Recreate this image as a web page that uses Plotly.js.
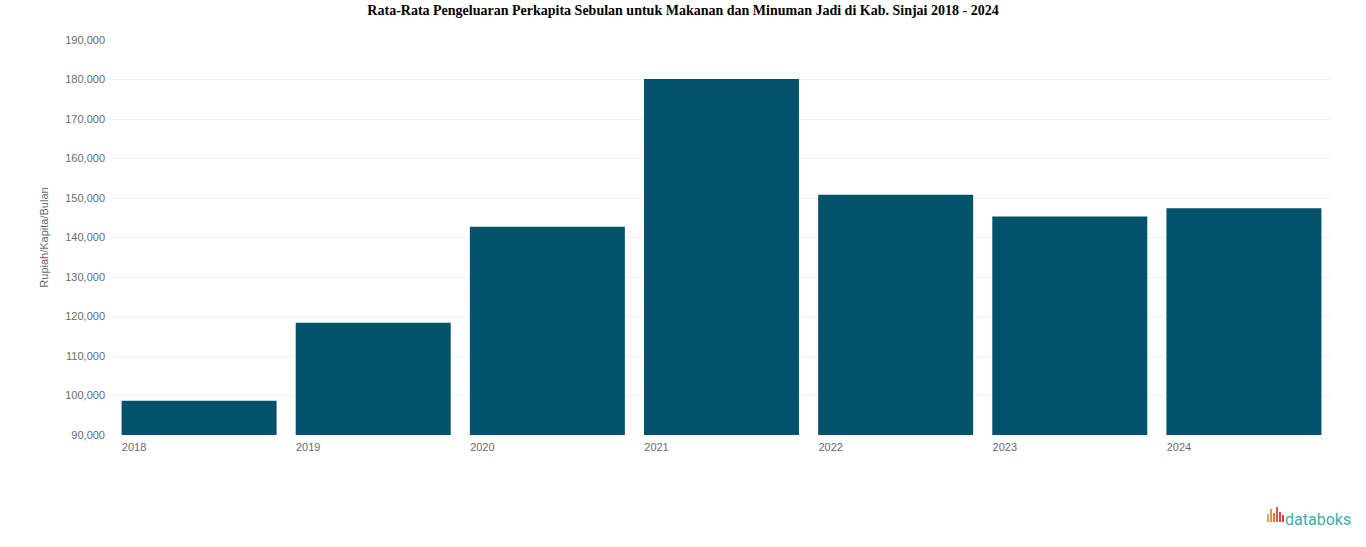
<!DOCTYPE html>
<html>
<head>
<meta charset="utf-8">
<script src="https://cdn.plot.ly/plotly-3.0.1.min.js"></script>
<style>
  html, body { margin: 0; padding: 0; background: #fff; }
  #chart { width: 1366px; height: 547px; }
</style>
</head>
<body>
<div id="chart"></div>
<script>
// data
var years = ['2018', '2019', '2020', '2021', '2022', '2023', '2024'];
var spending = [98700, 118400, 142700, 180100, 150800, 145300, 147400];
var yTicks = [90000, 100000, 110000, 120000, 130000, 140000, 150000, 160000, 170000, 180000, 190000];

var W = 1366, H = 547;
var mL = 112, mR = 35, mT = 40, mB = 112;
var plotW = W - mL - mR, plotH = H - mT - mB;

// pixel -> paper helpers for the logo
function px(x) { return (x - mL) / plotW; }
function py(y) { return (H - mB - y) / plotH; }

var barColor = '#02526c';
var axisFont = { family: 'Arial, Liberation Sans, sans-serif', size: 11, color: '#6a6a6a' };

var data = [{
    x: years,
    y: spending,
    type: 'bar',
    marker: { color: barColor },
    hoverinfo: 'x+y',
    showlegend: false
}];

// small icon for the databoks mark
var iconBars = [
    { x: 1267, h: 8, c: '#f0a35a' },
    { x: 1270, h: 13, c: '#ef8a52' },
    { x: 1273, h: 9, c: '#ea6d4c' },
    { x: 1276, h: 15, c: '#e65448' },
    { x: 1279, h: 10, c: '#e2444a' },
    { x: 1282, h: 7, c: '#de3b4b' }
];
var shapes = iconBars.map(function(b) {
    return {
        type: 'rect', xref: 'paper', yref: 'paper',
        x0: px(b.x), x1: px(b.x + 2),
        y0: py(519 + 3), y1: py(519 + 3 - b.h),
        fillcolor: b.c, line: { width: 0 }
    };
});

var layout = {
    width: W,
    height: H,
    margin: { l: mL, r: mR, t: mT, b: mB },
    paper_bgcolor: '#fff',
    plot_bgcolor: '#fff',
    title: {
        text: '<b>Rata-Rata Pengeluaran Perkapita Sebulan untuk Makanan dan Minuman Jadi di Kab. Sinjai 2018 - 2024</b>',
        font: { family: 'Liberation Serif, Times New Roman, serif', size: 14, color: '#000' },
        x: 0.5,
        xref: 'container',
        xanchor: 'center',
        y: 1 - 10 / H,
        yanchor: 'middle'
    },
    bargap: 0.11,
    xaxis: {
        type: 'category',
        showgrid: false,
        showline: false,
        zeroline: false,
        ticks: '',
        tickfont: axisFont,
        ticklabelshift: -65,
        ticklabelstandoff: 4,
        fixedrange: true
    },
    yaxis: {
        range: [90000, 190000],
        autorange: false,
        tickvals: yTicks,
        tickformat: ',d',
        showgrid: true,
        gridcolor: '#f1f1f1',
        gridwidth: 1,
        zeroline: false,
        showline: false,
        ticks: '',
        tickfont: axisFont,
        ticklabelstandoff: 6,
        title: {
            text: 'Rupiah/Kapita/Bulan',
            font: { family: 'Arial, Liberation Sans, sans-serif', size: 11, color: '#6a6a6a' },
            standoff: 14
        },
        fixedrange: true
    },
    shapes: shapes,
    annotations: [{
        text: 'databoks',
        xref: 'paper', yref: 'paper',
        x: px(1353), y: py(519),
        xanchor: 'right', yanchor: 'middle',
        showarrow: false,
        font: { family: 'Roboto, Open Sans, sans-serif', size: 16, color: '#3eaea6' }
    }]
};

Plotly.newPlot('chart', data, layout, { displayModeBar: false, staticPlot: true });
</script>
</body>
</html>
